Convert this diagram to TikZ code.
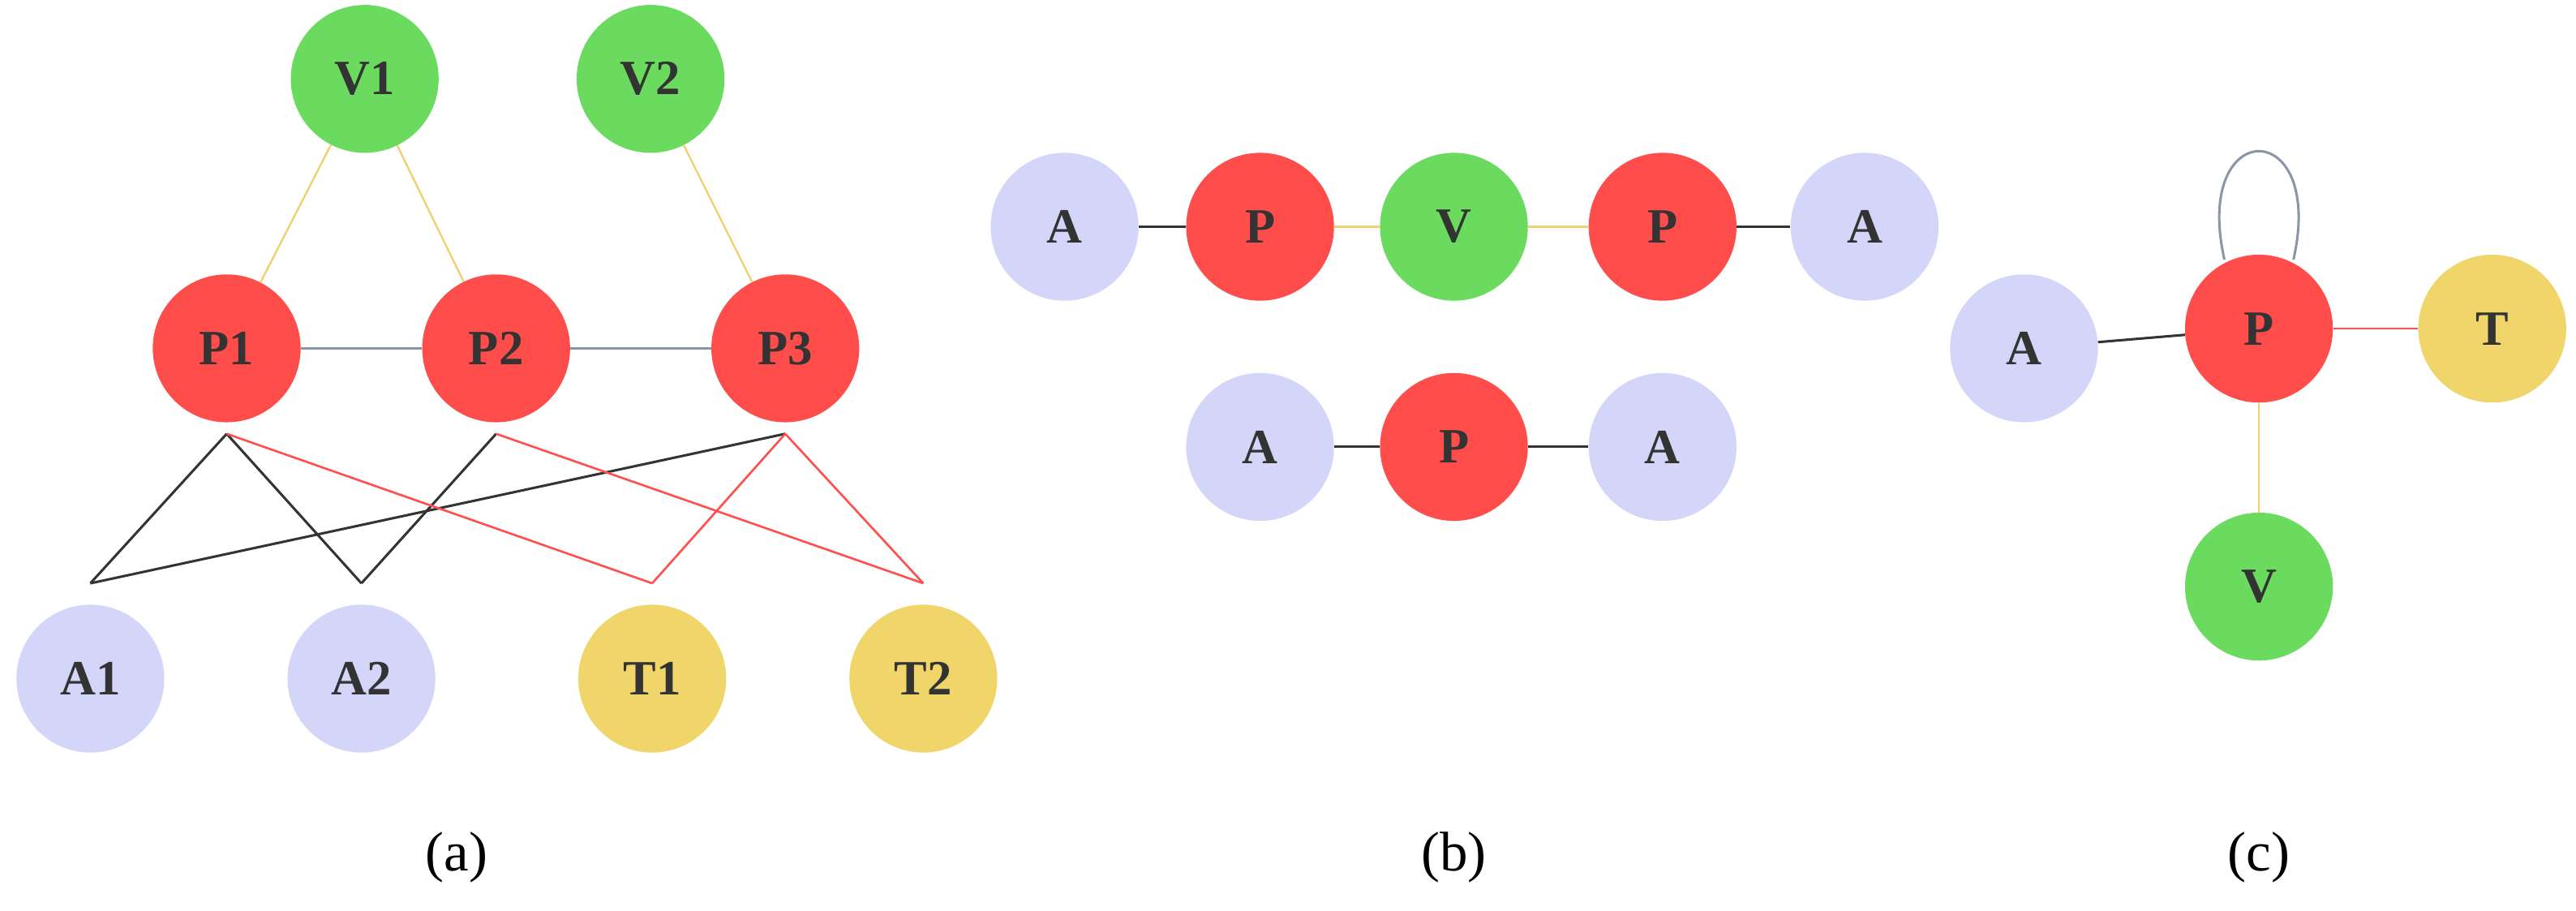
\documentclass[tikz,border=0pt]{standalone}
\usepackage{fontspec}
\setmainfont{Liberation Serif}
\begin{document}
\begin{tikzpicture}[x=1pt,y=-1pt,
  n/.style={circle,minimum size=90pt,inner sep=0pt,font=\fontsize{30}{34}\selectfont\bfseries,text=black!80},
  g/.style={n,fill=cG}, r/.style={n,fill=cR}, l/.style={n,fill=cL}, yy/.style={n,fill=cY},
  ey/.style={draw=eY,line width=1.2pt}, eg/.style={draw=eG,line width=1.5pt},
  ek/.style={draw=black!80,line width=1.5pt}, er/.style={draw=eR,line width=1.3pt},
  lab/.style={font=\fontsize{34}{38}\selectfont}]
\definecolor{cG}{HTML}{6ADB5E}\definecolor{cR}{HTML}{FF4D4B}
\definecolor{cL}{HTML}{D3D6F8}\definecolor{cY}{HTML}{F0D66A}
\definecolor{eY}{HTML}{F0D070}\definecolor{eG}{HTML}{8A96A8}\definecolor{eR}{HTML}{FF5050}
\useasboundingbox (0,0) rectangle (1568,554);
% (a)
\node[g] (V1) at (222,48) {V1};
\node[g] (V2) at (396,48) {V2};
\node[r] (P1) at (138,212) {P1};
\node[r] (P2) at (302,212) {P2};
\node[r] (P3) at (478,212) {P3};
\node[l] (A1) at (55,413) {A1};
\node[l] (A2) at (220,413) {A2};
\node[yy] (T1) at (397,413) {T1};
\node[yy] (T2) at (562,413) {T2};
\coordinate (P1b) at (138,264);\coordinate (P2b) at (302,264);\coordinate (P3b) at (478,264);
\coordinate (A1t) at (55,355);\coordinate (A2t) at (220,355);
\coordinate (T1t) at (397,355);\coordinate (T2t) at (562,355);
\draw[ey] (V1) -- (P1); \draw[ey] (V1) -- (P2); \draw[ey] (V2) -- (P3);
\draw[eg] (P1) -- (P2); \draw[eg] (P2) -- (P3);
\draw[ek] (P1b) -- (A1t); \draw[ek] (P1b) -- (A2t); \draw[ek] (P2b) -- (A2t); \draw[ek] (P3b) -- (A1t);
\draw[er] (P1b) -- (T1t); \draw[er] (P2b) -- (T2t); \draw[er] (P3b) -- (T1t); \draw[er] (P3b) -- (T2t);
\node[lab] (ca) at (278,522) {(a)};
% (b)
\node[l] (bA1) at (648,138) {A};
\node[r] (bP1) at (767,138) {P};
\node[g] (bV) at (885,138) {V};
\node[r] (bP2) at (1012,138) {P};
\node[l] (bA2) at (1135,138) {A};
\draw[ek] (bA1) -- (bP1); \draw[ey] (bP1) -- (bV); \draw[ey] (bV) -- (bP2); \draw[ek] (bP2) -- (bA2);
\node[l] (bA3) at (767,272) {A};
\node[r] (bP3) at (885,272) {P};
\node[l] (bA4) at (1012,272) {A};
\draw[ek] (bA3) -- (bP3); \draw[ek] (bP3) -- (bA4);
\node[lab] (cb) at (885,522) {(b)};
% (c)
\node[l] (cA) at (1232,212) {A};
\node[r] (cP) at (1375,200) {P};
\node[yy] (cT) at (1517,200) {T};
\node[g] (cV) at (1375,357) {V};
\draw[ek] (cA) -- (cP); \draw[er] (cP) -- (cT); \draw[ey] (cP) -- (cV);
\coordinate (lp1) at (1354,158); \coordinate (lp2) at (1396,158);
\draw[eg] (lp1) .. controls (1334,70) and (1416,70) .. (lp2);
\node[lab] (cc) at (1375,522) {(c)};
\end{tikzpicture}
\end{document}
